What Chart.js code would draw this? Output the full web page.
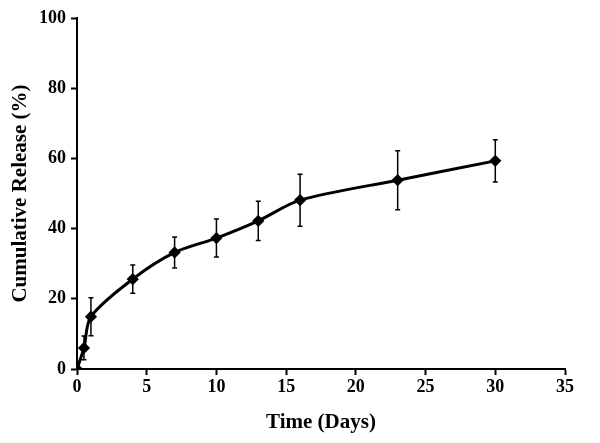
<!DOCTYPE html>
<html>
<head>
<meta charset="utf-8">
<script src="https://cdn.jsdelivr.net/npm/chart.js@4"></script>
<style>
  html, body { margin: 0; padding: 0; background: #fff; }
  #wrap { width: 600px; height: 443px; }
</style>
</head>
<body>
<div id="wrap"><canvas id="releaseChart" width="600" height="443"></canvas></div>
<script>
const days = [0, 0.5, 1, 4, 7, 10, 13, 16, 23, 30];
const release = [0, 6.0, 14.9, 25.6, 33.2, 37.3, 42.2, 48.1, 53.8, 59.3];
const releaseSd = [0, 3.4, 5.4, 4.0, 4.4, 5.4, 5.6, 7.4, 8.4, 6.0];
const xTicks = [0, 5, 10, 15, 20, 25, 30, 35];
const yTicks = [0, 20, 40, 60, 80, 100];

const FONT = "'Liberation Serif', 'DejaVu Serif', serif";

// error bars drawn from the dataset through the chart scales
const errorBars = {
  id: "errorBars",
  afterDatasetsDraw(chart) {
    const { ctx, scales } = chart;
    const x = scales.x, y = scales.y;
    ctx.save();
    ctx.strokeStyle = "#000";
    ctx.lineWidth = 1.5;
    days.forEach((d, i) => {
      const sd = releaseSd[i];
      if (!sd) return;
      const px = x.getPixelForValue(d);
      const top = y.getPixelForValue(release[i] + sd);
      const bot = y.getPixelForValue(release[i] - sd);
      ctx.beginPath();
      ctx.moveTo(px, top);
      ctx.lineTo(px, bot);
      ctx.moveTo(px - 2.5, top);
      ctx.lineTo(px + 2.5, top);
      ctx.moveTo(px - 2.5, bot);
      ctx.lineTo(px + 2.5, bot);
      ctx.stroke();
    });
    ctx.restore();
  },
};

const ctx = document.getElementById("releaseChart");

new Chart(ctx, {
  type: "line",
  data: {
    datasets: [
      {
        data: days.map((d, i) => ({ x: d, y: release[i] })),
        borderColor: "#000",
        backgroundColor: "#000",
        borderWidth: 3,
        tension: 0.3,
        pointStyle: "rectRot",
        pointRadius: 4,
        pointHoverRadius: 4,
      },
    ],
  },
  options: {
    responsive: false,
    animation: false,
    layout: { padding: { top: 18, right: 35, left: 4, bottom: 4 } },
    plugins: {
      legend: { display: false },
      tooltip: { enabled: false },
    },
    scales: {
      x: {
        type: "linear",
        min: 0,
        max: 35,
        afterBuildTicks: (axis) => {
          axis.ticks = xTicks.map((v) => ({ value: v }));
        },
        afterFit: (axis) => {
          axis.height = 70;
        },
        border: { color: "#000", width: 2 },
        grid: { drawOnChartArea: false, color: "#000", tickLength: 6, tickWidth: 2 },
        ticks: {
          color: "#000",
          padding: 2,
          maxRotation: 0,
          font: { family: FONT, size: 18, weight: "bold" },
        },
        title: {
          display: true,
          text: "Time (Days)",
          color: "#000",
          padding: { top: 2 },
          font: { family: FONT, size: 21, weight: "bold" },
        },
      },
      y: {
        min: 0,
        max: 100,
        afterBuildTicks: (axis) => {
          axis.ticks = yTicks.map((v) => ({ value: v }));
        },
        afterFit: (axis) => {
          axis.width = 73;
        },
        border: { color: "#000", width: 2 },
        grid: { drawOnChartArea: false, color: "#000", tickLength: 6, tickWidth: 2 },
        ticks: {
          color: "#000",
          padding: 5,
          font: { family: FONT, size: 18, weight: "bold" },
        },
        title: {
          display: true,
          text: "Cumulative Release (%)",
          color: "#000",
          padding: { bottom: 0 },
          font: { family: FONT, size: 21, weight: "bold" },
        },
      },
    },
  },
  plugins: [errorBars],
});
</script>
</body>
</html>
